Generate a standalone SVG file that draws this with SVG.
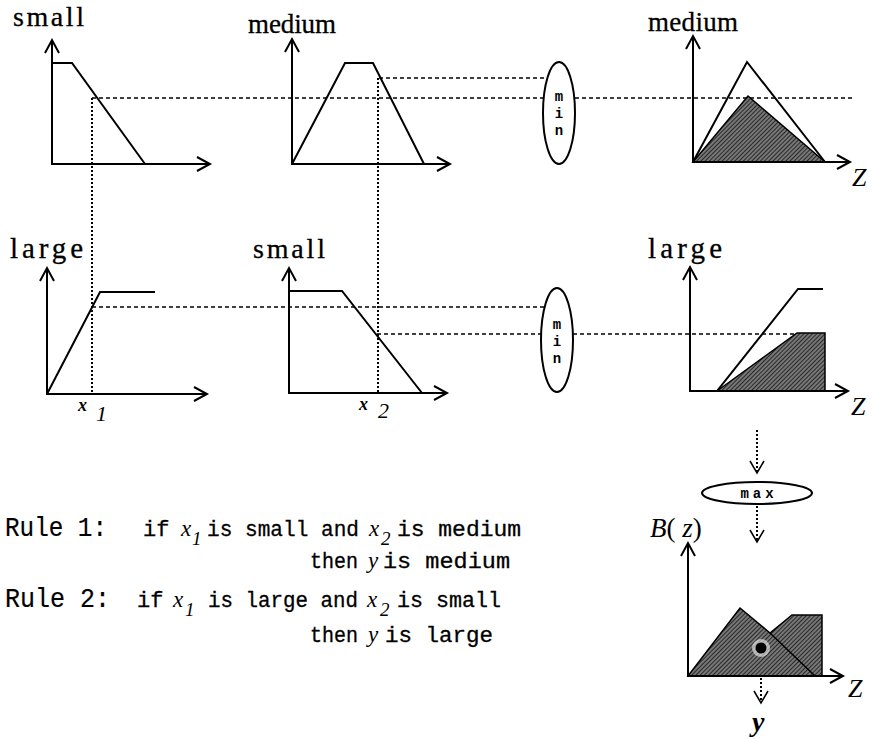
<svg xmlns="http://www.w3.org/2000/svg" width="872" height="739" viewBox="0 0 872 739">
<style>
.ax{stroke:#000;stroke-width:2;fill:none}
.fn{stroke:#000;stroke-width:2;fill:none;stroke-linejoin:miter}
.dash{stroke:#000;stroke-width:1.5;stroke-dasharray:4 3;fill:none}
.dot{stroke:#000;stroke-width:2;stroke-dasharray:2 2;fill:none}
.shade{fill:url(#hatch);stroke:#000;stroke-width:1.5;stroke-linejoin:miter}
.lab{font-family:"Liberation Serif",serif;fill:#000;stroke:#000;stroke-width:0.3}
.mono{font-family:"Liberation Mono",monospace;font-size:22px;fill:#000;stroke:#000;stroke-width:0.3}
.rule{font-family:"Liberation Mono",monospace;font-size:28px;fill:#000;stroke:#000;stroke-width:0.2}
.it{font-family:"Liberation Serif",serif;font-style:italic;fill:#000}
.op{font-family:"Liberation Mono",monospace;font-weight:bold;font-size:14px;fill:#000;text-anchor:middle}
.ell{fill:#fff;stroke:#000;stroke-width:2}
</style>
<defs>
<pattern id="hatch" width="3" height="3" patternUnits="userSpaceOnUse" patternTransform="rotate(45)">
<rect width="3" height="3" fill="#777"/>
<line x1="0" y1="0" x2="0" y2="3" stroke="#151515" stroke-width="1.6"/>
</pattern>
</defs>
<rect width="872" height="739" fill="#fff"/>

<g id="connectors">
<line class="dash" x1="92" y1="98" x2="853" y2="98"/>
<line class="dash" x1="379" y1="78" x2="548" y2="78"/>
<line class="dash" x1="92" y1="307" x2="544" y2="307"/>
<line class="dash" x1="377" y1="334" x2="825" y2="334"/>
<line class="dot" x1="92" y1="98" x2="92" y2="394"/>
<line class="dot" x1="378" y1="78" x2="378" y2="393"/>
<line class="dot" x1="757" y1="430" x2="757" y2="472"/>
<path class="ax" style="stroke-width:1.5" d="M750 461 L757 473 L764 461"/>
<line class="dot" x1="757" y1="506" x2="757" y2="541"/>
<path class="ax" style="stroke-width:1.5" d="M750 530 L757 542 L764 530"/>
<line class="dot" x1="761" y1="678" x2="761" y2="702"/>
<path class="ax" style="stroke-width:1.5" d="M754 691 L761 703 L768 691"/>
</g>

<g id="g-small-x1">
<text class="lab" x="13" y="26" font-size="28" textLength="71" lengthAdjust="spacing">small</text>
<path class="ax" d="M52 40 L52 164 L210 164"/>
<path class="ax" d="M45 53 L52 40 L59 53 M197 157 L210 164 L197 171"/>
<path class="fn" d="M52 63 L72 63 L145 164"/>
</g>

<g id="g-medium-x2">
<text class="lab" x="248" y="33" font-size="27" textLength="88" lengthAdjust="spacing">medium</text>
<path class="ax" d="M292 39 L292 164 L450 164"/>
<path class="ax" d="M285 52 L292 39 L299 52 M437 157 L450 164 L437 171"/>
<path class="fn" d="M292 164 L345 63 L373 63 L424 164"/>
</g>

<g id="min1">
<ellipse class="ell" cx="559" cy="113" rx="16" ry="51"/>
<text class="op" x="559" y="101">m</text>
<text class="op" x="559" y="118">i</text>
<text class="op" x="559" y="135">n</text>
</g>

<g id="g-medium-z">
<text class="lab" x="648" y="31" font-size="27" textLength="90" lengthAdjust="spacing">medium</text>
<polygon class="shade" points="693,162 748,96 825,162"/>
<path class="ax" d="M693 36 L693 162 L850 162"/>
<path class="ax" d="M686 49 L693 36 L700 49 M837 155 L850 162 L837 169"/>
<path class="fn" d="M693 162 L747 62 L825 162"/>
<text class="it" x="852" y="186" font-size="26">Z</text>
</g>

<g id="g-large-x1">
<text class="lab" x="10" y="258" font-size="29" textLength="73" lengthAdjust="spacing">large</text>
<path class="ax" d="M47 268 L47 394 L207 394"/>
<path class="ax" d="M40 281 L47 268 L54 281 M194 387 L207 394 L194 401"/>
<path class="fn" d="M47 394 L100 292 L155 292"/>
<text class="it" x="78" y="411" font-size="18" font-weight="bold">x</text>
<text class="it" x="96" y="421" font-size="22">1</text>
</g>

<g id="g-small-x2">
<text class="lab" x="253" y="258" font-size="28" textLength="72" lengthAdjust="spacing">small</text>
<path class="ax" d="M289 268 L289 393 L447 393"/>
<path class="ax" d="M282 281 L289 268 L296 281 M434 386 L447 393 L434 400"/>
<path class="fn" d="M289 291 L342 291 L422 393"/>
<text class="it" x="359" y="410" font-size="18" font-weight="bold">x</text>
<text class="it" x="378" y="418" font-size="22">2</text>
</g>

<g id="min2">
<ellipse class="ell" cx="557" cy="340" rx="16" ry="52"/>
<text class="op" x="557" y="329">m</text>
<text class="op" x="557" y="346">i</text>
<text class="op" x="557" y="363">n</text>
</g>

<g id="g-large-z">
<text class="lab" x="648" y="258" font-size="29" textLength="74" lengthAdjust="spacing">large</text>
<polygon class="shade" points="717,391 797,333 825,333 825,391"/>
<path class="ax" d="M690 267 L690 391 L848 391"/>
<path class="ax" d="M683 280 L690 267 L697 280 M835 384 L848 391 L835 398"/>
<path class="fn" d="M690 391 L717 391 L798 289 L823 289"/>
<text class="it" x="851" y="415" font-size="26">Z</text>
</g>

<g id="max">
<ellipse class="ell" cx="757" cy="493" rx="55" ry="11"/>
<text class="op" x="759" y="498" font-size="13" letter-spacing="4">max</text>
</g>

<g id="g-result">
<text x="650" y="537" font-size="27"><tspan class="it">B</tspan><tspan font-family="Liberation Serif">( </tspan><tspan class="it">z</tspan><tspan font-family="Liberation Serif">)</tspan></text>
<polygon class="shade" points="688,676 740,608 770,633 792,615 822,615 822,676"/>
<line class="fn" x1="770" y1="633" x2="815" y2="676" style="stroke-width:1.5"/>
<circle cx="761" cy="648" r="9" fill="#fff" opacity="0.55"/>
<circle cx="761" cy="648" r="5.5" fill="#000"/>
<path class="ax" d="M688 543 L688 676 L843 676"/>
<path class="ax" d="M681 556 L688 543 L695 556 M830 669 L843 676 L830 683"/>
<text class="it" x="848" y="697" font-size="26">Z</text>
<text class="it" x="752" y="731" font-size="28" font-weight="bold">y</text>
</g>

<g id="rules">
<text class="rule" x="5" y="536" textLength="102" lengthAdjust="spacingAndGlyphs">Rule 1:</text>
<text class="mono" x="143" y="536">if</text>
<text class="it" x="181" y="536" font-size="23">x</text>
<text class="it" x="192" y="545" font-size="19">1</text>
<text class="mono" x="207" y="536" textLength="152" lengthAdjust="spacingAndGlyphs">is small and</text>
<text class="it" x="369" y="536" font-size="23">x</text>
<text class="it" x="381" y="545" font-size="19">2</text>
<text class="mono" x="397" y="536" textLength="124" lengthAdjust="spacingAndGlyphs">is medium</text>
<text class="mono" x="310" y="568" textLength="48" lengthAdjust="spacingAndGlyphs">then</text>
<text class="it" x="368" y="568" font-size="23">y</text>
<text class="mono" x="383" y="568" textLength="127" lengthAdjust="spacingAndGlyphs">is medium</text>
<text class="rule" x="5" y="607" textLength="105" lengthAdjust="spacingAndGlyphs">Rule 2:</text>
<text class="mono" x="137" y="607">if</text>
<text class="it" x="173" y="607" font-size="23">x</text>
<text class="it" x="185" y="616" font-size="19">1</text>
<text class="mono" x="208" y="607" textLength="150" lengthAdjust="spacingAndGlyphs">is large and</text>
<text class="it" x="367" y="607" font-size="23">x</text>
<text class="it" x="380" y="616" font-size="19">2</text>
<text class="mono" x="397" y="607" textLength="104" lengthAdjust="spacingAndGlyphs">is small</text>
<text class="mono" x="310" y="642" textLength="48" lengthAdjust="spacingAndGlyphs">then</text>
<text class="it" x="368" y="642" font-size="23">y</text>
<text class="mono" x="385" y="642" textLength="108" lengthAdjust="spacingAndGlyphs">is large</text>
</g>
</svg>
